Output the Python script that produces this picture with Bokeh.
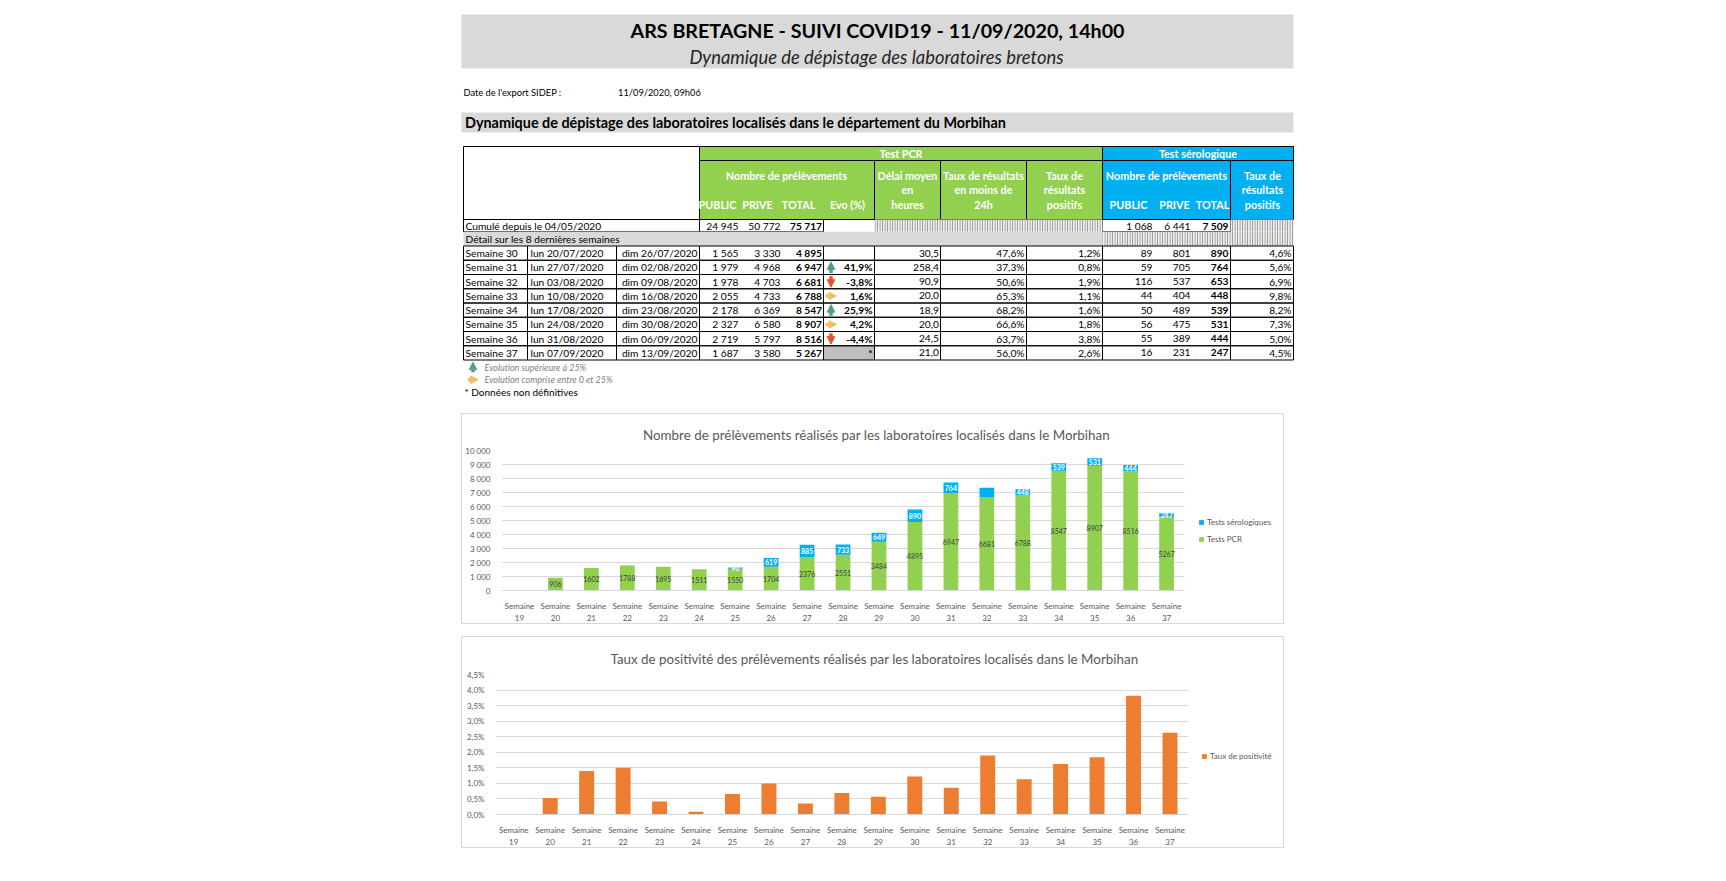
from bokeh.plotting import figure
from bokeh.models import (Range1d, FixedTicker, Legend, LegendItem,
                          Arrow, NormalHead, Spacer, ColumnDataSource)
from bokeh.layouts import row, column
from bokeh.core.properties import value
from bokeh.embed import file_html
from bokeh.resources import INLINE

FONT = "Lato"
GREEN = "#92d050"
BLUE = "#00b0f0"
ORANGE = "#ed7d31"
LGREY = "#d9d9d9"
TXT_GREY = "#595959"
ARROW_UP = "#4e9f84"
ARROW_DOWN = "#e5532d"
ARROW_RIGHT = "#f3bd63"

# ---------------- texts ----------------
report_title = "ARS BRETAGNE - SUIVI COVID19 - 11/09/2020, 14h00"
report_subtitle = "Dynamique de dépistage des laboratoires bretons"
export_label = "Date de l'export SIDEP :"
export_date = "11/09/2020, 09h06"
section_title = "Dynamique de dépistage des laboratoires localisés dans le département du Morbihan"
cumul_label = "Cumulé depuis le 04/05/2020"
detail_label = "Détail sur les 8 dernières semaines"
legend_up = "Evolution supérieure à 25%"
legend_right = "Evolution comprise entre 0 et 25%"
legend_star = "* Données non définitives"

# ---------------- table data ----------------
cumul_pcr = [24945, 50772, 75717]
cumul_sero = [1068, 6441, 7509]
tab_weeks = ["Semaine 30", "Semaine 31", "Semaine 32", "Semaine 33",
             "Semaine 34", "Semaine 35", "Semaine 36", "Semaine 37"]
tab_start = ["lun 20/07/2020", "lun 27/07/2020", "lun 03/08/2020", "lun 10/08/2020",
             "lun 17/08/2020", "lun 24/08/2020", "lun 31/08/2020", "lun 07/09/2020"]
tab_end = ["dim 26/07/2020", "dim 02/08/2020", "dim 09/08/2020", "dim 16/08/2020",
           "dim 23/08/2020", "dim 30/08/2020", "dim 06/09/2020", "dim 13/09/2020"]
pcr_public = [1565, 1979, 1978, 2055, 2178, 2327, 2719, 1687]
pcr_prive = [3330, 4968, 4703, 4733, 6369, 6580, 5797, 3580]
pcr_total = [4895, 6947, 6681, 6788, 8547, 8907, 8516, 5267]
evo = [None, 41.9, -3.8, 1.6, 25.9, 4.2, -4.4, "*"]
delai = [30.5, 258.4, 90.9, 20.0, 18.9, 20.0, 24.5, 21.0]
taux_24h = [47.6, 37.3, 50.6, 65.3, 68.2, 66.6, 63.7, 56.0]
taux_pos = [1.2, 0.8, 1.9, 1.1, 1.6, 1.8, 3.8, 2.6]
sero_public = [89, 59, 116, 44, 50, 56, 55, 16]
sero_prive = [801, 705, 537, 404, 489, 475, 389, 231]
sero_total = [890, 764, 653, 448, 539, 531, 444, 247]
sero_taux = [4.6, 5.6, 6.9, 9.8, 8.2, 7.3, 5.0, 4.5]

# ---------------- chart data ----------------
chart_weeks = list(range(19, 38))
pcr_weekly = [0, 906, 1602, 1788, 1695, 1511, 1550, 1704, 2376, 2551, 3484,
              4895, 6947, 6681, 6788, 8547, 8907, 8516, 5267]
sero_weekly = [0, 0, 0, 0, 0, 0, 90, 619, 885, 733, 649,
               890, 764, 653, 448, 539, 531, 444, 247]
sero_shown = [False, False, False, False, False, False, True, True, True, True, True,
              True, True, False, True, True, True, True, True]
positivity = [0, 0.53, 1.40, 1.50, 0.42, 0.09, 0.66, 1.00, 0.35, 0.69, 0.57,
              1.22, 0.86, 1.90, 1.13, 1.62, 1.84, 3.82, 2.63]
chart1_title = "Nombre de prélèvements réalisés par les laboratoires localisés dans le Morbihan"
chart2_title = "Taux de positivité des prélèvements réalisés par les laboratoires localisés dans le Morbihan"
week_labels = [f"Semaine\n{w}" for w in chart_weeks]
y1_ticks = [0, 1000, 2000, 3000, 4000, 5000, 6000, 7000, 8000, 9000, 10000]
y1_labels = ["0", "1 000", "2 000", "3 000", "4 000", "5 000", "6 000", "7 000",
             "8 000", "9 000", "10 000"]
y2_ticks = [0.0, 0.5, 1.0, 1.5, 2.0, 2.5, 3.0, 3.5, 4.0, 4.5]
y2_labels = ["0,0%", "0,5%", "1,0%", "1,5%", "2,0%", "2,5%", "3,0%", "3,5%", "4,0%", "4,5%"]
series1_labels = ["Tests sérologiques", "Tests PCR"]
series2_label = "Taux de positivité"


def fmt_int(n):
    return f"{n:,}".replace(",", " ")


def fmt_dec(v, suffix=""):
    return f"{v:.1f}".replace(".", ",") + suffix


def put_text(p, xs, ys, texts, size, align="left", style="normal", color="#000000"):
    src = ColumnDataSource(dict(x=list(xs), y=list(ys), t=list(texts)))
    p.text(x="x", y="y", text="t", source=src, text_font=value(FONT),
           text_font_size=f"{size}px", text_align=align, text_baseline="middle",
           text_font_style=style, text_color=color)


def boxes(p, l, r, t, b, fill=None, line="#000000", **kw):
    src = ColumnDataSource(dict(l=list(l), r=list(r), t=list(t), b=list(b)))
    p.quad(left="l", right="r", top="t", bottom="b", source=src,
           fill_color=fill, line_color=line, **kw)


def add_arrows(p, kinds, xs, ys, half=5.5):
    spec = {"up": ARROW_UP, "down": ARROW_DOWN, "right": ARROW_RIGHT}
    for kind, color in spec.items():
        sel = [(x, y) for k, x, y in zip(kinds, xs, ys) if k == kind]
        if not sel:
            continue
        if kind == "up":
            d = dict(x0=[x for x, _ in sel], y0=[y + half for _, y in sel],
                     x1=[x for x, _ in sel], y1=[y - half for _, y in sel])
        elif kind == "down":
            d = dict(x0=[x for x, _ in sel], y0=[y - half for _, y in sel],
                     x1=[x for x, _ in sel], y1=[y + half for _, y in sel])
        else:
            d = dict(x0=[x - half for x, _ in sel], y0=[y for _, y in sel],
                     x1=[x + half for x, _ in sel], y1=[y for _, y in sel])
        p.add_layout(Arrow(end=NormalHead(size=7.5, fill_color=color, line_color=color),
                           x_start="x0", y_start="y0", x_end="x1", y_end="y1",
                           source=ColumnDataSource(d), line_color=color, line_width=3.5))


# ================= top part (report header + table) =================
top = figure(width=840, height=403, x_range=Range1d(458, 1298), y_range=Range1d(411, 8),
             x_axis_location=None, y_axis_location=None, output_backend="svg",
             toolbar_location=None, min_border=0, outline_line_color=None)
top.grid.visible = False

# title block
boxes(top, [461], [1293], [14], [68], fill=LGREY, line=None)
put_text(top, [877], [30], [report_title], 19.7, align="center", style="bold")
put_text(top, [876], [56], [report_subtitle], 18.4, align="center", style="italic", color="#262626")
put_text(top, [463], [91.5], [export_label], 9.3)
put_text(top, [617.5], [91.5], [export_date], 9.3)
boxes(top, [461], [1293], [112], [132], fill=LGREY, line=None)
put_text(top, [464.5], [122], [section_title], 14.4, style="bold")

# table geometry
CX = [463, 527, 616, 699, 823, 874, 940, 1026, 1102, 1230, 1293]
Y_TOP, Y_H1, Y_H2, Y_CUM, Y_DET = 146, 160, 219, 231.3, 245.5
ROW_H = 14.25
FS = 10.2
FSH = 10.8

# header
boxes(top, [463], [699], [Y_TOP], [Y_H2], fill="white")
boxes(top, [699], [1102], [Y_TOP], [Y_H2], fill=GREEN)
boxes(top, [1102], [1293], [Y_TOP], [Y_H2], fill=BLUE)
top.segment(x0=[699, 874, 940, 1026, 1230], y0=[Y_H1, Y_H1, Y_H1, Y_H1, Y_H1],
            x1=[1293, 874, 940, 1026, 1230], y1=[Y_H1, Y_H2, Y_H2, Y_H2, Y_H2],
            line_color="#000000", line_width=1)
hdr_t = ["Test PCR", "Test sérologique", "Nombre de prélèvements", "PUBLIC", "PRIVE", "TOTAL",
         "Evo (%)", "Délai moyen", "en", "heures", "Taux de résultats", "en moins de", "24h",
         "Taux de", "résultats", "positifs", "Nombre de prélèvements", "PUBLIC", "PRIVE", "TOTAL",
         "Taux de", "résultats", "positifs"]
hdr_x = [900.5, 1197.5, 786, 717, 757, 798, 847, 907, 907, 907, 983, 983, 983,
         1064, 1064, 1064, 1166, 1128, 1174, 1212, 1262, 1262, 1262]
hdr_y = [153, 153, 175, 204, 204, 204, 204, 175, 189, 204, 175, 189, 204,
         175, 189, 204, 175, 204, 204, 204, 175, 189, 204]
put_text(top, hdr_x, hdr_y, hdr_t, FSH, align="center", style="bold", color="white")

hatch = dict(hatch_pattern="vertical_line", hatch_color="#8c8c8c", hatch_scale=2.5,
             hatch_weight=1)
# cumulative row
yc = (Y_H2 + Y_CUM) / 2
boxes(top, [463, 699, 1102], [699, 823, 1230], [Y_H2] * 3, [Y_CUM] * 3, fill="white")
boxes(top, [874, 1230], [1102, 1293], [Y_H2] * 2, [Y_CUM] * 2, fill="#eeeeee", line=None, **hatch)
put_text(top, [465], [yc], [cumul_label], FS)
put_text(top, [738, 780, 1152, 1190], [yc] * 4,
         [fmt_int(cumul_pcr[0]), fmt_int(cumul_pcr[1]), fmt_int(cumul_sero[0]), fmt_int(cumul_sero[1])],
         FS, align="right")
put_text(top, [821.5, 1228], [yc] * 2, [fmt_int(cumul_pcr[2]), fmt_int(cumul_sero[2])],
         FS, align="right", style="bold")

# detail row
boxes(top, [463], [1102], [Y_CUM], [Y_DET], fill=LGREY, line=None)
boxes(top, [1102], [1293], [Y_CUM], [Y_DET], fill="#eeeeee", line=None, **hatch)
put_text(top, [465], [(Y_CUM + Y_DET) / 2], [detail_label], FS)

# weekly rows
n = len(tab_weeks)
r_top = [Y_DET + i * ROW_H for i in range(n)]
r_bot = [t + ROW_H for t in r_top]
r_mid = [t + ROW_H / 2 for t in r_top]
star_rows = [i for i, e in enumerate(evo) if e == "*"]
boxes(top, [823] * len(star_rows), [874] * len(star_rows),
      [r_top[i] for i in star_rows], [r_bot[i] for i in star_rows], fill="#bfbfbf", line=None)
cl, cr, ct, cb = [], [], [], []
for i in range(n):
    for a, b in zip(CX[:-1], CX[1:]):
        if a == 699:
            continue
        if a == 616:
            b = 699
        cl.append(a); cr.append(b); ct.append(r_top[i]); cb.append(r_bot[i])
for i in range(n):
    cl.append(699); cr.append(823); ct.append(r_top[i]); cb.append(r_bot[i])
boxes(top, cl, cr, ct, cb, fill=None)

put_text(top, [465] * n, r_mid, tab_weeks, FS)
put_text(top, [530] * n, r_mid, tab_start, FS)
put_text(top, [697] * n, r_mid, tab_end, FS, align="right")
put_text(top, [738] * n, r_mid, [fmt_int(v) for v in pcr_public], FS, align="right")
put_text(top, [780] * n, r_mid, [fmt_int(v) for v in pcr_prive], FS, align="right")
put_text(top, [821.5] * n, r_mid, [fmt_int(v) for v in pcr_total], FS, align="right", style="bold")
evo_txt = ["" if e is None else e if isinstance(e, str) else fmt_dec(e, "%") for e in evo]
put_text(top, [872] * n, r_mid, evo_txt, FS, align="right", style="bold")
put_text(top, [938.5] * n, r_mid, [fmt_dec(v) for v in delai], FS, align="right")
put_text(top, [1024] * n, r_mid, [fmt_dec(v, "%") for v in taux_24h], FS, align="right")
put_text(top, [1100] * n, r_mid, [fmt_dec(v, "%") for v in taux_pos], FS, align="right")
put_text(top, [1152] * n, r_mid, [fmt_int(v) for v in sero_public], FS, align="right")
put_text(top, [1190] * n, r_mid, [fmt_int(v) for v in sero_prive], FS, align="right")
put_text(top, [1228] * n, r_mid, [fmt_int(v) for v in sero_total], FS, align="right", style="bold")
put_text(top, [1291] * n, r_mid, [fmt_dec(v, "%") for v in sero_taux], FS, align="right")

kinds = []
for e in evo:
    if e is None or isinstance(e, str):
        kinds.append(None)
    elif e > 25:
        kinds.append("up")
    elif e >= 0:
        kinds.append("right")
    else:
        kinds.append("down")
add_arrows(top, kinds, [830.5] * n, r_mid)

# legend under the table
add_arrows(top, ["up", "right"], [472.5, 472.5], [366.7, 379.2], half=5)
put_text(top, [484, 484], [366.7, 379.2], [legend_up, legend_right], 9, style="italic", color="#808080")
put_text(top, [464], [391], [legend_star], 10)


# ================= charts =================
xpos = list(range(len(chart_weeks)))


def style_chart(p, title_offset, xmax):
    p.title.text_font = FONT
    p.title.text_font_size = "13.4px"
    p.title.text_font_style = "normal"
    p.title.text_color = TXT_GREY
    p.title.align = "left"
    p.title.offset = title_offset
    p.title.vertical_align = "top"
    p.title.standoff = 12
    p.xgrid.visible = False
    p.ygrid.grid_line_color = LGREY
    p.ygrid.cross_bounds = (-0.5, xmax)
    p.outline_line_color = None
    p.xaxis.ticker = FixedTicker(ticks=xpos)
    p.xaxis.major_label_overrides = dict(zip(xpos, week_labels))
    p.xaxis.bounds = (-0.5, xmax)
    p.xaxis.axis_line_color = LGREY
    p.xaxis.major_tick_line_color = None
    p.xaxis.minor_tick_line_color = None
    p.xaxis.major_label_text_font = FONT
    p.xaxis.major_label_text_font_size = "8px"
    p.xaxis.major_label_text_color = TXT_GREY
    p.xaxis.major_label_standoff = 4
    p.yaxis.axis_line_color = None
    p.yaxis.major_tick_line_color = None
    p.yaxis.minor_tick_line_color = None
    p.yaxis.major_label_text_font = FONT
    p.yaxis.major_label_text_font_size = "8px"
    p.yaxis.major_label_text_color = TXT_GREY
    p.yaxis.major_label_standoff = 5
    p.styles = {"border": "1px solid #d9d9d9"}


def make_legend(items, loc):
    return Legend(items=items, location=loc, orientation="vertical", glyph_width=6,
                  glyph_height=6, label_height=10, label_standoff=3, spacing=7, padding=0,
                  margin=0, border_line_color=None, background_fill_alpha=0,
                  label_text_font=FONT, label_text_font_size="8px", label_text_color=TXT_GREY)


LAST = len(chart_weeks) - 0.5

# chart 1: stacked bars
C1_LEFT, C1_RIGHT, C1_STEP = 36, 5, 36.09
c1_xend = -0.5 + (823 - C1_LEFT - C1_RIGHT) / C1_STEP
src1 = ColumnDataSource(dict(
    x=xpos, pcr=pcr_weekly, tot=[a + b for a, b in zip(pcr_weekly, sero_weekly)],
    pcr_mid=[v / 2 for v in pcr_weekly],
    sero_mid=[a + b / 2 for a, b in zip(pcr_weekly, sero_weekly)],
    pcr_lbl=[str(v) if v > 0 else "" for v in pcr_weekly],
    sero_lbl=[str(v) if s else "" for v, s in zip(sero_weekly, sero_shown)]))
c1 = figure(width=823, height=211, x_range=Range1d(-0.5, c1_xend), y_range=Range1d(0, 10000),
            title=chart1_title, output_backend="svg", toolbar_location=None,
            min_border_left=C1_LEFT, min_border_right=C1_RIGHT, min_border_top=36,
            min_border_bottom=33)
r_pcr = c1.vbar(x="x", bottom=0, top="pcr", width=0.41, source=src1, fill_color=GREEN, line_color=None)
r_sero = c1.vbar(x="x", bottom="pcr", top="tot", width=0.41, source=src1, fill_color=BLUE, line_color=None)
c1.text(x="x", y="pcr_mid", text="pcr_lbl", source=src1, text_font=value(FONT),
        text_font_size="7px", text_align="center", text_baseline="middle", text_color="#404040")
c1.text(x="x", y="sero_mid", text="sero_lbl", source=src1, text_font=value(FONT),
        text_font_size="7px", text_align="center", text_baseline="middle", text_color="white",
        text_font_style="bold")
style_chart(c1, 141.5, LAST)
c1.yaxis.ticker = FixedTicker(ticks=y1_ticks)
c1.yaxis.major_label_overrides = dict(zip(y1_ticks, y1_labels))
c1.add_layout(make_legend([LegendItem(label=series1_labels[0], renderers=[r_sero]),
                           LegendItem(label=series1_labels[1], renderers=[r_pcr])], (697, 46)))

# chart 2: positivity rate
C2_LEFT, C2_RIGHT, C2_STEP = 33, 5, 36.46
c2_xend = -0.5 + (823 - C2_LEFT - C2_RIGHT) / C2_STEP
src2 = ColumnDataSource(dict(x=xpos, pos=positivity))
c2 = figure(width=823, height=212, x_range=Range1d(-0.5, c2_xend), y_range=Range1d(0, 4.5),
            title=chart2_title, output_backend="svg", toolbar_location=None,
            min_border_left=C2_LEFT, min_border_right=C2_RIGHT, min_border_top=37,
            min_border_bottom=33)
r_pos = c2.vbar(x="x", bottom=0, top="pos", width=0.41, source=src2, fill_color=ORANGE, line_color=None)
style_chart(c2, 115, LAST)
c2.yaxis.ticker = FixedTicker(ticks=y2_ticks)
c2.yaxis.major_label_overrides = dict(zip(y2_ticks, y2_labels))
c2.add_layout(make_legend([LegendItem(label=series2_label, renderers=[r_pos])], (706, 53)))

layout = row(Spacer(width=458),
             column(Spacer(height=8), top, Spacer(height=2), row(Spacer(width=3), c1),
                    Spacer(height=12), row(Spacer(width=3), c2)))

open("out.html", "w").write(file_html(layout, INLINE))
